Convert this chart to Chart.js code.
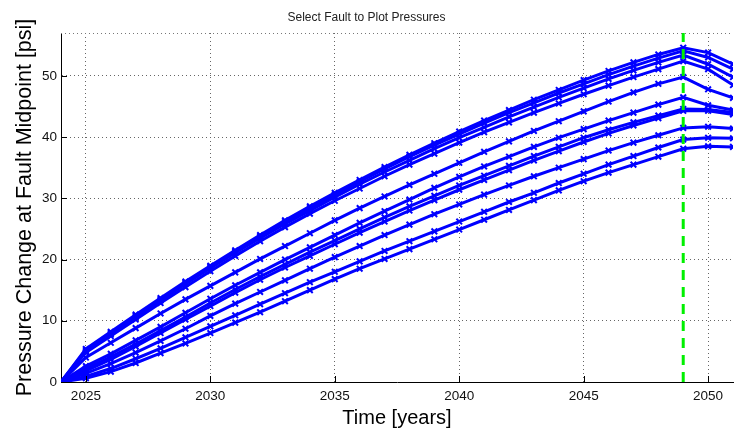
<!DOCTYPE html>
<html>
<head>
<meta charset="utf-8">
<script src="https://cdn.jsdelivr.net/npm/chart.js@4.4.1/dist/chart.umd.min.js"></script>
<style>
  html, body { margin: 0; padding: 0; background: #ffffff; }
  #c { display: block; }
</style>
</head>
<body>
<canvas id="c" width="750" height="442"></canvas>
<script>
// ---- data ----
const years = [2024,2025,2026,2027,2028,2029,2030,2031,2032,2033,2034,2035,2036,2037,2038,2039,2040,2041,2042,2043,2044,2045,2046,2047,2048,2049,2050,2051];

const faultT1 = [0,5.4,8.2,11.0,13.7,16.4,19.0,21.5,24.0,26.4,28.7,30.9,33.0,35.1,37.1,39.0,40.9,42.7,44.4,46.1,47.7,49.3,50.8,52.2,53.5,54.6,53.8,51.9];
const faultT2 = [0,5.2,8.0,10.8,13.5,16.2,18.8,21.3,23.8,26.1,28.4,30.6,32.7,34.8,36.8,38.7,40.5,42.3,44.0,45.6,47.2,48.7,50.2,51.6,52.9,54.1,53.0,51.1];
const faultT3 = [0,5.0,7.8,10.6,13.3,16.0,18.6,21.1,23.5,25.8,28.0,30.2,32.3,34.3,36.2,38.1,39.9,41.6,43.3,44.9,46.5,48.0,49.5,50.9,52.2,53.4,51.9,49.8];
const faultT4 = [0,4.8,7.5,10.2,12.9,15.5,18.1,20.6,23.0,25.3,27.5,29.6,31.6,33.6,35.5,37.3,39.1,40.8,42.4,44.0,45.5,47.0,48.4,49.8,51.1,52.4,51.1,48.5];
const faultT5 = [0,4.0,6.4,8.8,11.2,13.5,15.7,17.9,20.1,22.2,24.3,26.4,28.4,30.3,32.2,34.0,35.8,37.6,39.3,41.0,42.6,44.2,45.8,47.3,48.7,49.8,47.8,46.4];
const faultM1 = [0,2.6,4.6,6.8,9.0,11.3,13.6,15.8,17.9,20.0,22.0,24.0,26.0,27.9,29.8,31.7,33.5,35.2,36.8,38.4,39.9,41.3,42.7,44.0,45.3,46.5,45.2,44.4];
const faultM2 = [0,2.2,4.1,6.2,8.4,10.6,12.9,15.1,17.2,19.2,21.2,23.1,25.0,26.9,28.7,30.4,32.1,33.7,35.3,36.9,38.4,39.9,41.2,42.4,43.5,44.6,44.5,44.0];
const faultM3 = [0,1.8,3.7,5.8,8.0,10.2,12.4,14.6,16.7,18.7,20.6,22.5,24.4,26.2,28.0,29.7,31.4,33.0,34.6,36.2,37.7,39.2,40.6,41.9,43.1,44.3,44.3,43.7];
const faultL1 = [0,1.4,3.0,4.8,6.7,8.7,10.8,12.8,14.7,16.6,18.5,20.4,22.2,24.0,25.7,27.4,29.0,30.6,32.1,33.6,35.0,36.4,37.8,39.1,40.3,41.5,41.7,41.4];
const faultL2 = [0,0.9,2.2,3.8,5.5,7.3,9.1,10.9,12.7,14.5,16.3,18.0,19.7,21.4,23.0,24.6,26.2,27.8,29.4,30.9,32.5,34.0,35.5,36.9,38.3,39.6,39.9,39.8];
const faultL3 = [0,0.6,1.7,3.1,4.7,6.3,8.0,9.7,11.4,13.2,15.0,16.8,18.5,20.1,21.7,23.3,24.9,26.5,28.1,29.7,31.3,32.8,34.2,35.5,36.8,38.1,38.5,38.4];

const faultSeries = [faultT1, faultT2, faultT3, faultT4, faultT5, faultM1, faultM2, faultM3, faultL1, faultL2, faultL3];

const selectedTime = 2049;        // green dashed marker
const xTicks = [2025, 2030, 2035, 2040, 2045, 2050];
const yTicks = [0, 10, 20, 30, 40, 50];
const xRange = [2024, 2051];
const yRange = [0, 57];

// ---- chart ----
const FONT = "'Liberation Sans', Arial, Helvetica, sans-serif";

const innerTicks = {
  id: 'innerTicks',
  afterDatasetsDraw(chart) {
    const ctx = chart.ctx, a = chart.chartArea;
    const xs = chart.scales.x, ys = chart.scales.y;
    ctx.save();
    ctx.strokeStyle = '#000';
    ctx.lineWidth = 1;
    ctx.setLineDash([]);
    ctx.beginPath();
    xTicks.forEach(v => {
      const px = Math.round(xs.getPixelForValue(v)) + 0.5;
      ctx.moveTo(px, a.bottom); ctx.lineTo(px, a.bottom - 6);
    });
    yTicks.forEach(v => {
      const py = Math.round(ys.getPixelForValue(v)) + 0.5;
      ctx.moveTo(a.left, py); ctx.lineTo(a.left + 6, py);
    });
    ctx.stroke();
    // dotted top edge
    ctx.strokeStyle = '#777';
    ctx.setLineDash([1, 3]);
    ctx.beginPath();
    ctx.moveTo(a.left, Math.round(a.top) + 0.5);
    ctx.lineTo(a.right, Math.round(a.top) + 0.5);
    ctx.stroke();
    ctx.restore();
  }
};

const whiteBg = {
  id: 'whiteBg',
  beforeDraw(chart) {
    const ctx = chart.ctx;
    ctx.save();
    ctx.fillStyle = '#fff';
    ctx.fillRect(0, 0, chart.width, chart.height);
    ctx.restore();
  }
};

const datasets = [];
datasets.push({
  label: 'Selected time',
  data: [{x: selectedTime, y: yRange[0]}, {x: selectedTime, y: yRange[1]}],
  borderColor: '#00f000',
  borderWidth: 3,
  borderDash: [10, 7],
  pointRadius: 0,
  fill: false,
  tension: 0
});
faultSeries.forEach((vals, i) => {
  datasets.push({
    label: 'Fault ' + (i + 1),
    data: years.map((yr, k) => ({x: yr, y: vals[k]})),
    borderColor: '#0000ff',
    backgroundColor: '#0000ff',
    borderWidth: 3,
    pointStyle: 'crossRot',
    pointRadius: 4,
    pointBorderWidth: 2,
    pointBorderColor: '#0000ff',
    fill: false,
    tension: 0
  });
});

new Chart(document.getElementById('c'), {
  type: 'line',
  data: { datasets },
  plugins: [whiteBg, innerTicks],
  options: {
    responsive: false,
    animation: false,
    devicePixelRatio: 1,
    layout: { padding: { left: 0, right: 17, top: 0, bottom: 0 } },
    plugins: {
      legend: { display: false },
      tooltip: { enabled: false },
      title: {
        display: true,
        text: 'Select Fault to Plot Pressures',
        color: '#222',
        font: { family: FONT, size: 12, weight: 'normal' },
        padding: { top: 10, bottom: 8.6 }
      }
    },
    scales: {
      x: {
        type: 'linear',
        min: xRange[0],
        max: xRange[1],
        afterBuildTicks: s => { s.ticks = xTicks.map(v => ({value: v})); },
        afterFit: s => { s.height = 60; },
        border: { display: true, color: '#000', width: 1, dash: [1, 3] },
        grid: { color: '#666', lineWidth: 1, tickLength: 0, drawTicks: false },
        ticks: {
          color: '#111',
          font: { family: FONT, size: 13.5 },
          padding: 6,
          maxRotation: 0,
          callback: v => String(v)
        },
        title: {
          display: true,
          text: 'Time [years]',
          color: '#000',
          font: { family: FONT, size: 20 },
          padding: { top: 0, bottom: 12 }
        }
      },
      y: {
        type: 'linear',
        min: yRange[0],
        max: yRange[1],
        afterBuildTicks: s => { s.ticks = yTicks.map(v => ({value: v})); },
        afterFit: s => { s.width = 61; },
        border: { display: true, color: '#000', width: 1, dash: [1, 3] },
        grid: { color: '#666', lineWidth: 1, tickLength: 0, drawTicks: false },
        ticks: {
          color: '#111',
          font: { family: FONT, size: 13.5 },
          padding: 4,
          callback: v => String(v)
        },
        title: {
          display: true,
          text: 'Pressure Change at Fault Midpoint [psi]',
          color: '#000',
          font: { family: FONT, size: 21.5 },
          padding: { top: 12, bottom: 0 }
        }
      }
    }
  }
});
</script>
</body>
</html>
